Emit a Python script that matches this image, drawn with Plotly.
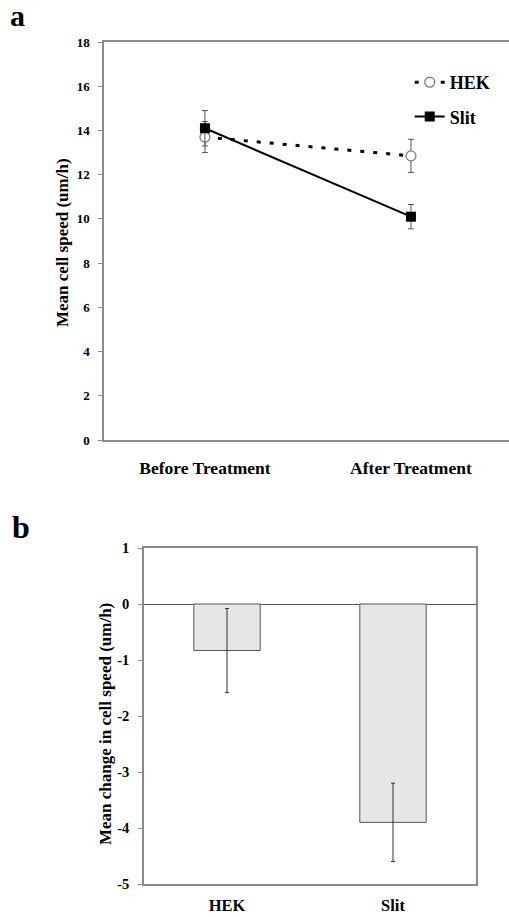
import plotly.graph_objects as go

# ---- Panel a data ----
timepoints = ["Before Treatment", "After Treatment"]
hek_speed = [13.7, 12.85]
hek_err = [0.7, 0.75]
slit_speed = [14.1, 10.1]
slit_err = [0.8, 0.55]
speed_ticks = [0, 2, 4, 6, 8, 10, 12, 14, 16, 18]

# ---- Panel b data ----
groups = ["HEK", "Slit"]
change_mean = [-0.83, -3.9]
change_err = [0.75, 0.7]
change_ticks = [1, 0, -1, -2, -3, -4, -5]
change_tick_labels = ["1", "0", "-1", "-2", "-3", "-4", "-5"]

W, H = 509, 917
FONT = "Liberation Serif"
AXC = "#8a8a8a"

fig = go.Figure()

fig.add_trace(go.Scatter(
    x=timepoints, y=hek_speed, name="HEK", mode="lines+markers",
    line=dict(color="black", width=3, dash="4px,9px"),
    marker=dict(symbol="circle", size=10, color="white", line=dict(color="#777", width=1.2)),
    error_y=dict(type="data", array=hek_err, color="#555", thickness=1, width=3),
    xaxis="x", yaxis="y", legendgroup="g1",
))
fig.add_trace(go.Scatter(
    x=timepoints, y=slit_speed, name="Slit", mode="lines+markers",
    line=dict(color="black", width=2),
    marker=dict(symbol="square", size=10, color="black"),
    error_y=dict(type="data", array=slit_err, color="#555", thickness=1, width=3),
    xaxis="x", yaxis="y", legendgroup="g2",
))

fig.add_trace(go.Bar(
    x=groups, y=change_mean, width=0.4, showlegend=False,
    marker=dict(color="#e6e6e6", line=dict(color="#555", width=1)),
    error_y=dict(type="data", array=change_err, color="#333", thickness=1, width=2),
    xaxis="x2", yaxis="y2",
))

ya_top, ya_bot = 42, 440
yb_top, yb_bot = 548, 884

fig.update_layout(
    template="none",
    width=W, height=H,
    margin=dict(l=0, r=0, t=0, b=0, autoexpand=False),
    paper_bgcolor="white", plot_bgcolor="white",
    font=dict(family=FONT, color="black"),
    showlegend=True,
    legend=dict(x=0.805, y=1 - 64 / H, xanchor="left", yanchor="top",
                font=dict(family=FONT, size=18, color="black", weight="bold"),
                bgcolor="rgba(0,0,0,0)", tracegroupgap=8, itemwidth=30),
    xaxis=dict(domain=[104 / W, 1], range=[-0.49, 1.476], type="category", automargin=False,
               showline=True, linecolor=AXC, linewidth=1.5, mirror=True,
               ticks="", showgrid=False, zeroline=False,
               tickfont=dict(family=FONT, size=17.5, weight="bold"),
               ticklabelstandoff=11),
    yaxis=dict(domain=[1 - ya_bot / H, 1 - ya_top / H], range=[0, 18], automargin=False,
               tickvals=speed_ticks, showline=True, linecolor=AXC, linewidth=1.5,
               ticks="outside", ticklen=4, tickcolor=AXC, showgrid=False, zeroline=False,
               tickfont=dict(family=FONT, size=13, weight="bold"),
               ticklabelstandoff=6),
    xaxis2=dict(domain=[144 / W, 476 / W], range=[-0.5, 1.5], type="category", automargin=False,
                showline=True, linecolor=AXC, linewidth=1.5, mirror=True,
                ticks="", showgrid=False, zeroline=False, anchor="y2",
                tickfont=dict(family=FONT, size=16.5, weight="bold"),
                ticklabelstandoff=5),
    yaxis2=dict(domain=[1 - yb_bot / H, 1 - yb_top / H], range=[-5, 1], automargin=False,
                tickvals=change_ticks, ticktext=change_tick_labels,
                showline=True, linecolor=AXC, linewidth=1.5, mirror=True,
                ticks="outside", ticklen=4, tickcolor=AXC, showgrid=False,
                zeroline=True, zerolinecolor="#555", zerolinewidth=1.2, anchor="x2",
                tickfont=dict(family=FONT, size=14.5, weight="bold"),
                ticklabelstandoff=6),
    annotations=[
        dict(text="a", x=8 / W, y=1 - 16 / H, xref="paper", yref="paper",
             xanchor="left", yanchor="middle", showarrow=False,
             font=dict(family=FONT, size=30, weight="bold")),
        dict(text="b", x=10 / W, y=1 - 527 / H, xref="paper", yref="paper",
             xanchor="left", yanchor="middle", showarrow=False,
             font=dict(family=FONT, size=32, weight="bold")),
        dict(text="Mean cell speed (um/h)", x=63 / W, y=1 - 243 / H,
             xref="paper", yref="paper", xanchor="center", yanchor="middle",
             textangle=-90, showarrow=False,
             font=dict(family=FONT, size=17, weight="bold")),
        dict(text="Mean change in cell speed (um/h)", x=105 / W, y=1 - 724 / H,
             xref="paper", yref="paper", xanchor="center", yanchor="middle",
             textangle=-90, showarrow=False,
             font=dict(family=FONT, size=17, weight="bold")),
    ],
)

fig.write_html("out.html", config={"displayModeBar": False},
               post_script="document.body.style.margin='0';document.body.style.overflow='hidden';")
